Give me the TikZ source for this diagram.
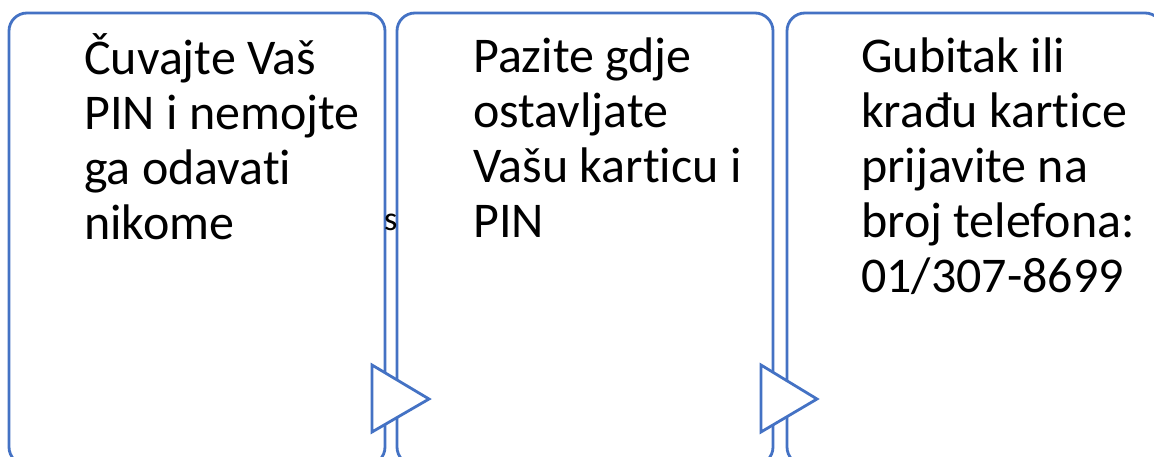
\documentclass[tikz,border=0pt]{standalone}
\usepackage{fontspec}
\setmainfont{Carlito}[Ligatures=NoCommon]
\definecolor{officeblue}{HTML}{4472C4}
\begin{document}
\begin{tikzpicture}[x=1pt,y=-1pt,
  panel/.style={draw=officeblue,line width=2.8pt,rounded corners=18pt,fill=white},
  pointer/.style={draw=officeblue,line width=2.8pt,fill=white,line join=miter},
  label/.style={anchor=north west,inner sep=0pt,align=left,font=\fontsize{50}{55}\selectfont},
]
\clip (0,0) rectangle (1154,457);
\fill[white] (0,0) rectangle (1154,457);
% panels
\draw[panel] (9,13) rectangle (385,465);
\draw[panel] (397,13) rectangle (773,465);
\draw[panel] (787,13) rectangle (1163,465);
% stray letter
\node[anchor=base west,inner sep=0pt,font=\fontsize{34}{38}\selectfont] (s) at (384,230) {s};
% pointers
\draw[pointer] (372,365) -- (429,399) -- (372,432) -- cycle;
\draw[pointer] (761,365) -- (817,399) -- (761,432) -- cycle;
% texts
\node[label] (t1) at (84,33.5) {\strut Čuvajte Vaš\\\strut PIN i nemojte\\\strut ga odavati\\\strut nikome};
\node[label] (t2) at (473,33.5) {\strut Pazite gdje\\\strut ostavljate\\\strut Vašu karticu i\\\strut PIN};
\node[label] (t3) at (861,33.5) {\strut Gubitak ili\\\strut krađu kartice\\\strut prijavite na\\\strut broj telefona:\\\strut 01/307-8699};
\end{tikzpicture}
\end{document}
